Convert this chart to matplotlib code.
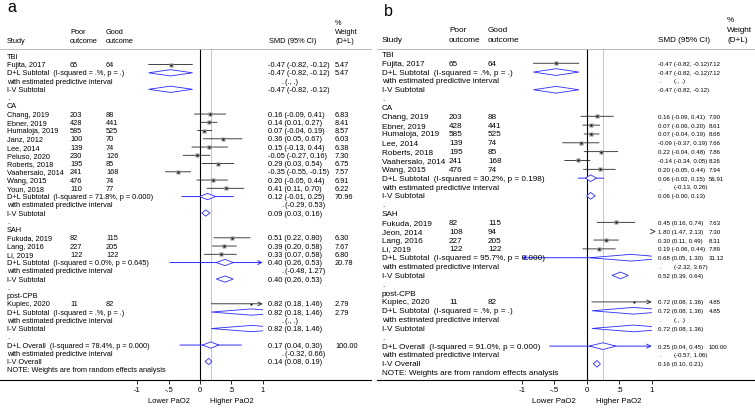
import matplotlib
matplotlib.use("Agg")
import matplotlib.pyplot as plt
from matplotlib import font_manager
from matplotlib.patches import Polygon, Rectangle
from matplotlib.path import Path
from matplotlib.transforms import blended_transform_factory
import numpy as np

plt.rcParams['font.family'] = ['Liberation Sans', 'DejaVu Sans']
HAS_NARROW = 'Liberation Sans Narrow' in {f.name for f in font_manager.fontManager.ttflist}

# ---------------- panel a data ----------------
a_group = ["TBI"] + ["CA"] * 10 + ["SAH"] * 3 + ["post-CPB"]
a_study = ["Fujita, 2017", "Chang, 2019", "Ebner, 2019", "Humaloja, 2019", "Janz, 2012",
           "Lee, 2014", "Peluso, 2020", "Roberts, 2018", "Vaahersalo, 2014", "Wang, 2015",
           "Youn, 2018", "Fukuda, 2019", "Lang, 2016", "Li, 2019", "Kupiec, 2020"]
a_poor = [65, 203, 428, 585, 100, 139, 230, 195, 241, 476, 110, 82, 227, 122, 11]
a_good = [64, 88, 441, 525, 70, 74, 126, 85, 168, 74, 77, 115, 205, 122, 82]
a_smd = [-0.47, 0.16, 0.14, 0.07, 0.36, 0.15, -0.05, 0.29, -0.35, 0.20, 0.41, 0.51, 0.39, 0.33, 0.82]
a_lo = [-0.82, -0.09, 0.01, -0.04, 0.05, -0.13, -0.27, 0.03, -0.55, -0.05, 0.11, 0.22, 0.20, 0.07, 0.18]
a_hi = [-0.12, 0.41, 0.27, 0.19, 0.67, 0.44, 0.16, 0.54, -0.15, 0.44, 0.70, 0.80, 0.58, 0.58, 1.46]
a_wt = [5.47, 6.83, 8.41, 8.57, 6.03, 6.38, 7.30, 6.75, 7.57, 6.91, 6.22, 6.30, 7.67, 6.80, 2.79]
# subgroups: TBI, CA, SAH, post-CPB
a_i2 = [".", "71.8", "0.0", "."]
a_p = [".", "0.000", "0.645", "."]
a_dl = [-0.47, 0.12, 0.40, 0.82]
a_dl_lo = [-0.82, -0.01, 0.26, 0.18]
a_dl_hi = [-0.12, 0.25, 0.53, 1.46]
a_dl_wt = [5.47, 70.96, 20.78, 2.79]
a_pi_lo = [None, -0.29, -0.48, None]
a_pi_hi = [None, 0.53, 1.27, None]
a_iv = [-0.47, 0.09, 0.40, 0.82]
a_iv_lo = [-0.82, 0.03, 0.26, 0.18]
a_iv_hi = [-0.12, 0.16, 0.53, 1.46]
# overall
a_all_i2, a_all_p = "78.4", "0.000"
a_all = [0.17, 0.04, 0.30]
a_all_pi = [-0.32, 0.66]
a_all_iv = [0.14, 0.08, 0.19]

# ---------------- panel b data ----------------
b_group = ["TBI"] + ["CA"] * 7 + ["SAH"] * 4 + ["post-CPB"]
b_study = ["Fujita, 2017", "Chang, 2019", "Ebner, 2019", "Humaloja, 2019", "Lee, 2014",
           "Roberts, 2018", "Vaahersalo, 2014", "Wang, 2015", "Fukuda, 2019", "Jeon, 2014",
           "Lang, 2016", "Li, 2019", "Kupiec, 2020"]
b_poor = [65, 203, 428, 585, 139, 195, 241, 476, 82, 108, 227, 122, 11]
b_good = [64, 88, 441, 525, 74, 85, 168, 74, 115, 94, 205, 122, 82]
b_smd = [-0.47, 0.16, 0.07, 0.07, -0.09, 0.22, -0.14, 0.20, 0.45, 1.80, 0.30, 0.19, 0.72]
b_lo = [-0.82, -0.09, -0.06, -0.04, -0.37, -0.04, -0.34, -0.05, 0.16, 1.47, 0.11, -0.06, 0.08]
b_hi = [-0.12, 0.41, 0.20, 0.19, 0.19, 0.48, 0.05, 0.44, 0.74, 2.13, 0.49, 0.44, 1.36]
b_wt = [7.12, 7.90, 8.61, 8.68, 7.66, 7.86, 8.26, 7.94, 7.63, 7.30, 8.31, 7.89, 4.85]
b_i2 = [".", "30.2", "95.7", "."]
b_p = [".", "0.198", "0.000", "."]
b_dl = [-0.47, 0.06, 0.68, 0.72]
b_dl_lo = [-0.82, -0.02, 0.05, 0.08]
b_dl_hi = [-0.12, 0.15, 1.30, 1.36]
b_dl_wt = [7.12, 56.91, 31.12, 4.85]
b_pi_lo = [None, -0.13, -2.32, None]
b_pi_hi = [None, 0.26, 3.67, None]
b_iv = [-0.47, 0.06, 0.52, 0.72]
b_iv_lo = [-0.82, -0.0, 0.39, 0.08]
b_iv_hi = [-0.12, 0.13, 0.64, 1.36]
b_all_i2, b_all_p = "91.0", "0.000"
b_all = [0.25, 0.04, 0.45]
b_all_pi = [-0.57, 1.06]
b_all_iv = [0.16, 0.10, 0.21]

W, H = 755, 414
BLUE = '#2b2bff'
fig = plt.figure(figsize=(W / 100, H / 100), dpi=100)

chev = Path([(-1, 1), (1, 0), (-1, -1)], [Path.MOVETO, Path.LINETO, Path.LINETO])


def ci_str(lo, hi):
    return f"({lo:.2f}, {hi:.2f})"


def draw_panel(cfg, d):
    left, right, zero, unit = cfg['left'], cfg['right'], cfg['zero'], cfg['unit']
    r1, sp, fs, fsn = cfg['row1'], cfg['sp'], cfg['fs'], cfg['fs_num']
    ax = fig.add_axes([left / W, 1 - 381 / H, (right - left) / W, (381 - 50) / H])
    ax.set_xlim((left - zero) / unit, (right - zero) / unit)
    ax.set_ylim(1 + (381 - r1) / sp, 1 - (r1 - 50) / sp)
    for s in ['left', 'right']:
        ax.spines[s].set_visible(False)
    ax.spines['top'].set_color('#b0b0b0')
    ax.spines['top'].set_linewidth(0.6)
    ax.spines['bottom'].set_linewidth(0.8)
    ax.set_yticks([])
    ax.set_xticks([-1, -0.5, 0, 0.5, 1])
    ax.set_xticklabels(["-1", "-.5", "0", ".5", "1"])
    ax.tick_params(axis='x', length=3, width=0.6, pad=1, labelsize=cfg['fs_tick'])

    ax.axvline(0, color='black', lw=0.8, zorder=1)
    ax.axvline(d['all'][0], color='#dbb0b0', lw=0.6, zorder=1)

    tr = blended_transform_factory(fig.transFigure, ax.transData)
    c = cfg['cols']

    def txt(col, row, s):
        if col in ('smd', 'dot', 'ci', 'wt'):
            kw = dict(fontsize=fsn, family=cfg['num_family'])
        else:
            kw = dict(fontsize=fs)
        ax.text(c[col] / W, row, s, transform=tr, va='center', ha='left', **kw)

    clip = Rectangle((-1, -10), 2, 100, transform=ax.transData)

    def ci_line(row, lo, hi, color, lw):
        if lo > 1:
            ax.plot([1], [row], marker=chev, ms=3.5, mew=0.6, color=color,
                    fillstyle='none', ls='none')
            return
        style = {(False, False): '-', (False, True): '->', (True, False): '<-',
                 (True, True): '<->'}[(lo < -1, hi > 1)]
        ax.annotate('', xy=(min(hi, 1), row), xytext=(max(lo, -1), row),
                    arrowprops=dict(arrowstyle=style, shrinkA=0, shrinkB=0, lw=lw,
                                    color=color, mutation_scale=7), zorder=2)

    def diamond(row, es, lo, hi):
        h = 0.38
        poly = Polygon([[lo, row], [es, row - h], [hi, row], [es, row + h]], closed=True,
                       facecolor='white', edgecolor=BLUE, lw=0.6, zorder=4)
        ax.add_patch(poly)
        poly.set_clip_path(clip)

    row = 1
    groups = list(dict.fromkeys(d['group']))
    for gi, g in enumerate(groups):
        txt('study', row, g)
        row += 1
        for i in [k for k, gg in enumerate(d['group']) if gg == g]:
            txt('study', row, d['study'][i])
            txt('poor', row, str(d['poor'][i]))
            txt('good', row, str(d['good'][i]))
            ci_line(row, d['lo'][i], d['hi'][i], '#222222', 0.6)
            es = d['smd'][i]
            if -1 <= es <= 1:
                ax.plot(es, row, marker='s', ms=np.sqrt(d['wt'][i]) * 0.95, color='#8c8c8c',
                        mec='none', zorder=3)
                ax.plot(es, row, marker='s', ms=1.2, color='black', mec='none', zorder=3)
            txt('smd', row, f"{es:.2f} " + ci_str(d['lo'][i], d['hi'][i]))
            txt('wt', row, f"{d['wt'][i]:.2f}")
            row += 1
        txt('study', row, f"D+L Subtotal  (I-squared = {d['i2'][gi]}%, p = {d['p'][gi]})")
        if d['pi_lo'][gi] is not None:
            ci_line(row, d['pi_lo'][gi], d['pi_hi'][gi], BLUE, 0.7)
        diamond(row, d['dl'][gi], d['dl_lo'][gi], d['dl_hi'][gi])
        txt('smd', row, f"{d['dl'][gi]:.2f} " + ci_str(d['dl_lo'][gi], d['dl_hi'][gi]))
        txt('wt', row, f"{d['dl_wt'][gi]:.2f}")
        row += 1
        txt('study', row, "with estimated predictive interval")
        txt('dot', row, ".")
        if d['pi_lo'][gi] is not None:
            txt('ci', row, ci_str(d['pi_lo'][gi], d['pi_hi'][gi]))
        else:
            txt('ci', row, "(., .)")
        row += 1
        txt('study', row, "I-V Subtotal")
        diamond(row, d['iv'][gi], d['iv_lo'][gi], d['iv_hi'][gi])
        txt('smd', row, f"{d['iv'][gi]:.2f} " + ci_str(d['iv_lo'][gi], d['iv_hi'][gi]))
        row += 1
        txt('study', row, ".")
        row += 1

    es, lo, hi = d['all']
    txt('study', row, f"D+L Overall  (I-squared = {d['all_i2']}%, p = {d['all_p']})")
    ci_line(row, d['all_pi'][0], d['all_pi'][1], BLUE, 0.7)
    diamond(row, es, lo, hi)
    txt('smd', row, f"{es:.2f} " + ci_str(lo, hi))
    txt('wt', row, "100.00")
    row += 1
    txt('study', row, "with estimated predictive interval")
    txt('dot', row, ".")
    txt('ci', row, ci_str(*d['all_pi']))
    row += 1
    es, lo, hi = d['all_iv']
    txt('study', row, "I-V Overall")
    diamond(row, es, lo, hi)
    txt('smd', row, f"{es:.2f} " + ci_str(lo, hi))
    row += 1
    txt('study', row, "NOTE: Weights are from random effects analysis")

    # header
    hy = cfg['head_y']

    def htxt(x, y, s):
        fig.text(x / W, 1 - y / H, s, fontsize=fs, va='center', ha='left')
    htxt(c['study'], hy[2], "Study")
    htxt(c['poor'], hy[1], "Poor")
    htxt(c['poor'], hy[2], "outcome")
    htxt(c['good'], hy[1], "Good")
    htxt(c['good'], hy[2], "outcome")
    htxt(cfg['smd_head'], hy[2], "SMD (95% CI)")
    htxt(cfg['wt_head'], hy[0], "%")
    htxt(cfg['wt_head'], hy[1], "Weight")
    htxt(cfg['wt_head'], hy[2], "(D+L)")

    tb = blended_transform_factory(ax.transData, fig.transFigure)
    ax.text(-0.5, 1 - 402 / H, "Lower PaO2", transform=tb, fontsize=cfg['fs_tick'],
            ha='center', va='center')
    ax.text(0.5, 1 - 402 / H, "Higher PaO2", transform=tb, fontsize=cfg['fs_tick'],
            ha='center', va='center')
    fig.text(cfg['label_xy'][0] / W, 1 - cfg['label_xy'][1] / H, cfg['label'], fontsize=11.5,
             va='baseline', ha='left')


def pack(p):
    g = globals()
    keys = ['group', 'study', 'poor', 'good', 'smd', 'lo', 'hi', 'wt', 'i2', 'p', 'dl', 'dl_lo',
            'dl_hi', 'dl_wt', 'pi_lo', 'pi_hi', 'iv', 'iv_lo', 'iv_hi', 'all_i2', 'all_p', 'all',
            'all_pi', 'all_iv']
    return {k: g[p + '_' + k] for k in keys}


cfg_a = dict(left=0, right=371, zero=200, unit=62.7, row1=57.3, sp=8.25, fs=5.3, fs_num=5.3,
             num_family=['Liberation Sans', 'DejaVu Sans'], fs_tick=5.4,
             cols=dict(study=7, poor=70, good=106, smd=268, dot=281, ci=285, wt=335),
             head_y=[23.5, 33, 41.5], smd_head=269, wt_head=335, label='a', label_xy=(7, 12))
cfg_b = dict(left=377, right=755, zero=586.7, unit=65, row1=55.4, sp=8.84, fs=5.9,
             fs_num=5.3 if HAS_NARROW else 4.4,
             num_family=['Liberation Sans Narrow' if HAS_NARROW else 'Liberation Sans',
                         'DejaVu Sans'],
             fs_tick=5.7,
             cols=dict(study=382, poor=449, good=488, smd=658, dot=659, ci=674, wt=709),
             head_y=[21, 31, 40], smd_head=658, wt_head=727, label='b', label_xy=(384, 16))

draw_panel(cfg_a, pack('a'))
draw_panel(cfg_b, pack('b'))

plt.savefig('out.png', dpi=100)
